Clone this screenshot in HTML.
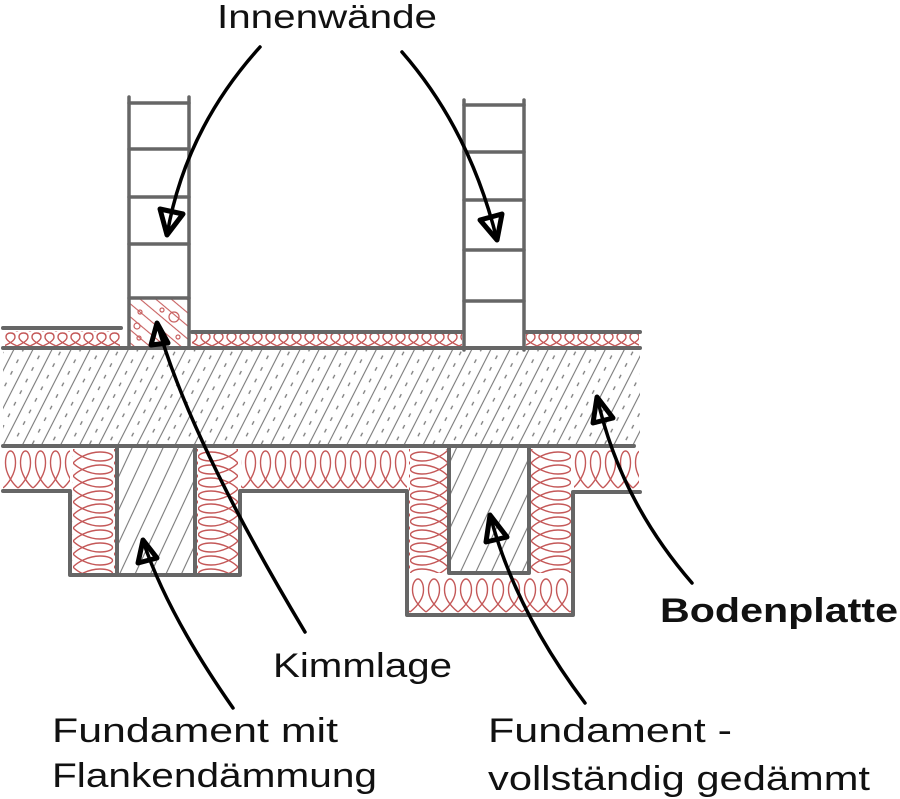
<!DOCTYPE html>
<html><head><meta charset="utf-8"><style>
html,body{margin:0;padding:0;background:#fff;}
svg{display:block;}
text{font-family:"Liberation Sans",sans-serif;fill:#111;}
</style></head><body>
<svg width="900" height="799" viewBox="0 0 900 799" xmlns="http://www.w3.org/2000/svg">
<defs>
<pattern id="slab" patternUnits="userSpaceOnUse" width="17" height="39" patternTransform="rotate(27)">
<line x1="1" y1="0" x2="1" y2="39" stroke="#7a7a7a" stroke-width="1.1"/>
<line x1="9.5" y1="0" x2="9.5" y2="39" stroke="#7a7a7a" stroke-width="1.3" stroke-dasharray="4 9"/>
</pattern>
<pattern id="conc" patternUnits="userSpaceOnUse" width="14" height="30" patternTransform="rotate(25)">
<line x1="1" y1="0" x2="1" y2="30" stroke="#7a7a7a" stroke-width="1.1"/>
</pattern>
<pattern id="kimm" patternUnits="userSpaceOnUse" width="10" height="30" patternTransform="rotate(-50)">
<line x1="1" y1="0" x2="1" y2="30" stroke="#c86060" stroke-width="1.1"/>
</pattern>
<pattern id="insT" patternUnits="userSpaceOnUse" x="4" y="332" width="13" height="15">
<path d="M0,14 C4,12 11,9 11,5 C11,2 9,1 6.5,1 C4,1 2,2 2,5 C2,9 9,12 13,14" fill="none" stroke="#c45858" stroke-width="1.4"/>
</pattern>
<pattern id="insV" patternUnits="userSpaceOnUse" x="3" y="449" width="15" height="40">
<path d="M0,39 C5,35 12.5,25 12.5,14 C12.5,6 10,2 7.5,2 C5,2 2.5,6 2.5,14 C2.5,25 10,35 15,39" fill="none" stroke="#c45858" stroke-width="1.4"/>
</pattern>
<pattern id="insV2" patternUnits="userSpaceOnUse" x="410" y="577" width="16" height="36">
<path d="M0,35 C5,31 13.5,23 13.5,13 C13.5,5 10,2 8,2 C6,2 2.5,5 2.5,13 C2.5,23 11,31 16,35" fill="none" stroke="#c45858" stroke-width="1.4"/>
</pattern>
<pattern id="insH1" patternUnits="userSpaceOnUse" x="73" y="450" width="41" height="13">
<path d="M0,0 C4,4.3 15,11 27,11 C35,11 39.5,8.7 39.5,6.5 C39.5,4.3 35,2 27,2 C15,2 4,8.7 0,13" fill="none" stroke="#c45858" stroke-width="1.4"/>
</pattern>
<pattern id="insH2" patternUnits="userSpaceOnUse" x="198" y="450" width="40" height="13">
<path d="M40,0 C36,4.3 25,11 13,11 C5,11 0.5,8.7 0.5,6.5 C0.5,4.3 5,2 13,2 C25,2 36,8.7 40,13" fill="none" stroke="#c45858" stroke-width="1.4"/>
</pattern>
<pattern id="insH3" patternUnits="userSpaceOnUse" x="410" y="450" width="38" height="13">
<path d="M38,0 C34,4.3 24,11 12,11 C5,11 0.5,8.7 0.5,6.5 C0.5,4.3 5,2 12,2 C24,2 34,8.7 38,13" fill="none" stroke="#c45858" stroke-width="1.4"/>
</pattern>
<pattern id="insH4" patternUnits="userSpaceOnUse" x="531" y="450" width="40" height="13">
<path d="M0,0 C4,4.3 15,11 27,11 C35,11 39.5,8.7 39.5,6.5 C39.5,4.3 35,2 27,2 C15,2 4,8.7 0,13" fill="none" stroke="#c45858" stroke-width="1.4"/>
</pattern>
</defs>
<rect width="900" height="799" fill="#fff"/>

<!-- hatches -->
<rect x="3" y="348" width="637" height="98" fill="url(#slab)"/>
<rect x="117" y="446" width="78" height="129" fill="url(#conc)"/>
<rect x="449" y="446" width="80" height="127" fill="url(#conc)"/>
<rect x="129" y="298" width="60" height="50" fill="url(#kimm)"/>
<g fill="none" stroke="#c86060" stroke-width="1.2">
<circle cx="140" cy="312" r="2"/>
<circle cx="162" cy="310" r="2"/>
<circle cx="174" cy="317" r="5"/>
<circle cx="137" cy="326" r="3"/>
<circle cx="139" cy="338" r="2"/>
<circle cx="178" cy="337" r="2"/>
</g>

<!-- insulation -->
<rect x="5" y="331" width="115" height="16" fill="url(#insT)"/>
<rect x="192" y="334" width="270" height="13" fill="url(#insT)"/>
<rect x="526" y="334" width="113" height="13" fill="url(#insT)"/>
<rect x="3" y="449" width="67" height="40" fill="url(#insV)"/>
<rect x="241" y="449" width="166" height="40" fill="url(#insV)"/>
<rect x="574" y="449" width="65" height="40" fill="url(#insV)"/>
<rect x="72" y="449" width="43" height="124" fill="url(#insH1)"/>
<rect x="197" y="449" width="41" height="124" fill="url(#insH2)"/>
<rect x="409" y="449" width="38" height="124" fill="url(#insH3)"/>
<rect x="531" y="449" width="40" height="124" fill="url(#insH4)"/>
<rect x="409" y="577" width="162" height="36" fill="url(#insV2)"/>

<!-- outlines -->
<g fill="none" stroke="#666" stroke-width="4" stroke-linecap="round" stroke-linejoin="round">
<path d="M3,348 H640"/>
<path d="M3,446 H634"/>
<path d="M3,328 H121"/>
<path d="M192,332 H462"/>
<path d="M526,332 H640"/>
<path d="M3,491 H70 V575 H240 V491 H407 V615 H573 V492 H640"/>
<path d="M117,446 V575"/>
<path d="M195,446 V575"/>
<path d="M449,446 V573 H529 V446"/>
</g>
<g fill="none" stroke="#666" stroke-width="3.5" stroke-linecap="round">
<path d="M129,97 V348"/>
<path d="M189,97 V348"/>
<path d="M129,103 H189 M129,149 H189 M129,197 H189 M129,244 H189 M129,298 H189"/>
<path d="M464,100 V350"/>
<path d="M524,100 V350"/>
<path d="M464,105 H524 M464,152 H524 M464,200 H524 M464,250 H524 M464,301 H524"/>
</g>

<!-- arrows -->
<g fill="none" stroke="#000" stroke-width="3.5" stroke-linecap="round" stroke-linejoin="round">
<path d="M260,47 Q185,130 167,235"/>
<path d="M160,209 L167,235 L183,214 Z" stroke-width="5"/>
<path d="M402,52 Q470,130 497,240"/>
<path d="M480,220 L497,240 L502,214 Z" stroke-width="5"/>
<path d="M305,632 Q190,440 157,323"/>
<path d="M151,345 L157,323 L168,343 Z" stroke-width="5"/>
<path d="M233,708 Q168,615 143,541"/>
<path d="M138,563 L143,540 L157,558 Z" stroke-width="5"/>
<path d="M585,703 Q515,610 490,515"/>
<path d="M486,542 L490,515 L507,537 Z" stroke-width="5"/>
<path d="M692,583 Q620,500 597,397"/>
<path d="M593,423 L597,397 L613,418 Z" stroke-width="5"/>
</g>

<!-- labels -->
<text x="217" y="28" font-size="33" textLength="220" lengthAdjust="spacingAndGlyphs">Innenwände</text>
<text x="273" y="677" font-size="34" textLength="179" lengthAdjust="spacingAndGlyphs">Kimmlage</text>
<text x="52" y="742" font-size="34" textLength="286" lengthAdjust="spacingAndGlyphs">Fundament mit</text>
<text x="52" y="787" font-size="34" textLength="325" lengthAdjust="spacingAndGlyphs">Flankendämmung</text>
<text x="660" y="622" font-size="34" font-weight="bold" textLength="238" lengthAdjust="spacingAndGlyphs">Bodenplatte</text>
<text x="488" y="742" font-size="34" textLength="244" lengthAdjust="spacingAndGlyphs">Fundament -</text>
<text x="488" y="790" font-size="34" textLength="382" lengthAdjust="spacingAndGlyphs">vollständig gedämmt</text>
</svg>
</body></html>
